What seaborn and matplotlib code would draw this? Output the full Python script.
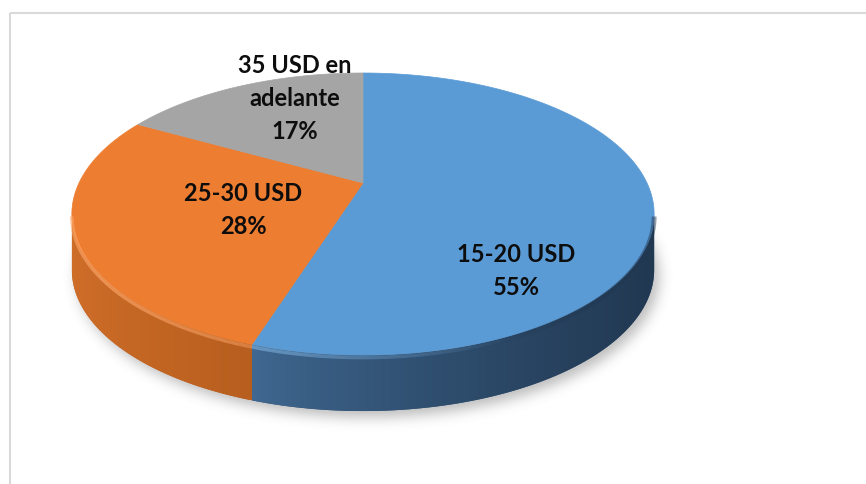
import numpy as np
import matplotlib
matplotlib.use("Agg")
import matplotlib.pyplot as plt
import seaborn as sns
from matplotlib.patches import Polygon, Rectangle
from matplotlib.path import Path
from matplotlib.collections import LineCollection

# Price ranges and their share of answers (%)
categories = ["15-20 USD", "25-30 USD", "35 USD en adelante"]
shares = [55, 28, 17]
category_lines = [["15-20 USD"], ["25-30 USD"], ["35 USD en", "adelante"]]

sns.set_theme(style="white")
plt.rcParams["font.family"] = ["Lato", "DejaVu Sans"]

top_colors = ["#5B9BD5", "#ED7D31", "#A5A5A5"]
side_colors = [((0.25, 0.41, 0.57), (0.13, 0.22, 0.32)),
               ((0.81, 0.43, 0.16), (0.72, 0.37, 0.12)),
               ((0.55, 0.55, 0.55), (0.45, 0.45, 0.45))]
rim_colors = [(0.58, 0.80, 0.99), (1.0, 0.66, 0.42), (0.8, 0.8, 0.8)]

W, H = 866, 484
fig = plt.figure(figsize=(W / 100, H / 100), dpi=100)
ax = fig.add_axes([0, 0, 1, 1])
ax.set_xlim(0, W)
ax.set_ylim(H, 0)
ax.axis("off")

# chart border
ax.add_patch(Rectangle((9.5, 12.5), 1000, 1000, fill=False,
                       edgecolor="#D9D9D9", lw=1.5, zorder=0))

# 3-D disc geometry (screen units)
CX, CY = 363, 183
R, TILT, PERSP, DEPTH = 284, 134.2, 0.22, 56


def project(phi, r=1.0, drop=0.0):
    u = r * np.sin(phi)
    v = r * np.cos(phi)
    k = 1 + PERSP * v
    return CX + u * R / k, CY - v * TILT / k + drop


vals = np.asarray(shares, dtype=float)
edges = np.concatenate([[0], np.cumsum(vals / vals.sum())]) * 2 * np.pi

# soft drop shadow under the disc
full = np.linspace(0, 2 * np.pi, 400)
sx, sy = project(full, drop=DEPTH + 6)
sx = sx + 5
yy, xx = np.mgrid[0:H, 0:W] + 0.5
mask = Path(np.column_stack([sx, sy])).contains_points(
    np.column_stack([xx.ravel(), yy.ravel()])).reshape(H, W).astype(float)
g = np.arange(-20, 21)
kern = np.exp(-g ** 2 / (2 * 6.5 ** 2))
kern /= kern.sum()
blur = np.apply_along_axis(lambda r: np.convolve(r, kern, mode="same"), 1, mask)
blur = np.apply_along_axis(lambda c: np.convolve(c, kern, mode="same"), 0, blur)
shadow = np.zeros((H, W, 4))
shadow[..., :3] = 0.3
shadow[..., 3] = 0.38 * blur
ax.imshow(shadow, extent=(0, W, H, 0), zorder=1, interpolation="bilinear")
ax.set_xlim(0, W)
ax.set_ylim(H, 0)

# visible front wall runs between the two silhouette points
phi_r = np.arccos(-PERSP)
phi_l = 2 * np.pi - phi_r

for i in range(len(vals)):
    lo, hi = max(edges[i], phi_r), min(edges[i + 1], phi_l)
    if hi <= lo:
        continue
    t = np.linspace(lo, hi, 300)
    tx, ty = project(t)
    bx, by = project(t, drop=DEPTH)
    pts = np.column_stack([np.concatenate([tx, bx[::-1]]),
                           np.concatenate([ty, by[::-1]])])
    c0, c1 = np.array(side_colors[i][0]), np.array(side_colors[i][1])
    poly = Polygon(pts, closed=True, facecolor=(c0 + c1) / 2,
                   edgecolor="none", zorder=2)
    ax.add_patch(poly)
    x0, x1 = pts[:, 0].min(), pts[:, 0].max()
    y0, y1 = pts[:, 1].min(), pts[:, 1].max()
    s = np.linspace(0, 1, 256) ** 0.8
    grad = (c0[None, :] * (1 - s[:, None]) + c1[None, :] * s[:, None])[None, :, :]
    im = ax.imshow(grad, extent=(x0, x1, y1, y0), aspect="auto",
                   zorder=3, interpolation="bilinear")
    im.set_clip_path(poly)

# top faces
for i in range(len(vals)):
    t = np.linspace(edges[i], edges[i + 1], 400)
    tx, ty = project(t)
    pts = np.vstack([[CX, CY], np.column_stack([tx, ty])])
    ax.add_patch(Polygon(pts, closed=True, facecolor=top_colors[i],
                         edgecolor=top_colors[i], lw=0.5, zorder=4))

# bevelled rim along the front edge
for i in range(len(vals)):
    lo, hi = max(edges[i], phi_r), min(edges[i + 1], phi_l)
    if hi <= lo:
        continue
    t = np.linspace(lo, hi, 300)
    rx, ry = project(t, drop=2.5)
    seg = np.stack([np.column_stack([rx[:-1], ry[:-1]]),
                    np.column_stack([rx[1:], ry[1:]])], axis=1)
    xm = (rx[:-1] + rx[1:]) / 2
    a_light = np.clip((520 - xm) / 420, 0, 1) * 0.75
    a_dark = np.clip((xm - 470) / 180, 0, 1) * 0.55
    cols_l = np.zeros((len(xm), 4))
    cols_l[:, :3] = rim_colors[i]
    cols_l[:, 3] = a_light
    cols_d = np.zeros((len(xm), 4))
    cols_d[:, :3] = side_colors[i][1]
    cols_d[:, 3] = a_dark
    ax.add_collection(LineCollection(seg, colors=cols_l, linewidths=2.6, zorder=5))
    ax.add_collection(LineCollection(seg, colors=cols_d, linewidths=3.5, zorder=5))

# data labels: category name + percentage
label_x = [516, 243, 295]
label_base = [262, 201, 73]
step = 33
for i in range(len(vals)):
    lines = category_lines[i] + [f"{shares[i]}%"]
    for j, line in enumerate(lines):
        ax.text(label_x[i], label_base[i] + j * step, line, ha="center",
                va="baseline", fontsize=17, fontweight="bold",
                color="#0D0D0D", zorder=6)

fig.savefig("out.png", dpi=100)
